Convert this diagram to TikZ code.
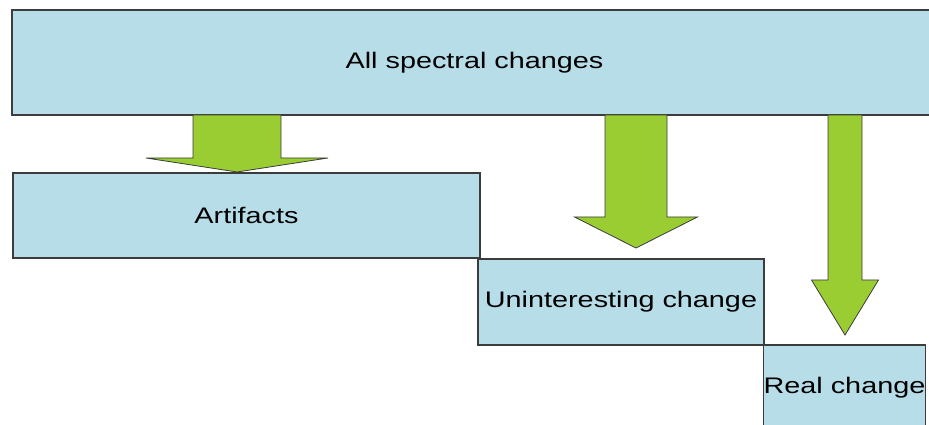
\documentclass[tikz,border=0pt]{standalone}
\usepackage{fontspec}
\setmainfont{Liberation Sans}[FakeStretch=1.28]
\usepackage{tikz}
\usetikzlibrary{positioning, calc}

\definecolor{boxblue}{HTML}{B7DEE8}
\definecolor{arrowgreen}{HTML}{9ACD32}
\definecolor{edgegray}{HTML}{3C3C3C}

% block arrow from the bottom of #1 down to the top of #2
% #3 axis x, #4 half shaft, #5 half head, #6 head length, #7 gap above target
\newcommand{\blockarrow}[7]{%
    \draw[bigarrow] let \p1=(#1.south), \p2=(#2.north) in
        (#3pt-#4pt,\y1) -- (#3pt+#4pt,\y1) -- (#3pt+#4pt,\y2+#7pt+#6pt)
        -- (#3pt+#5pt,\y2+#7pt+#6pt) -- (#3pt,\y2+#7pt)
        -- (#3pt-#5pt,\y2+#7pt+#6pt) -- (#3pt-#4pt,\y2+#7pt+#6pt) -- cycle;}

\begin{document}
\begin{tikzpicture}[
        x=1pt, y=1pt,
        stagebox/.style={draw=edgegray, fill=boxblue, line width=1.3pt, inner sep=0pt, outer sep=0pt, align=center, text=black, font=\fontsize{22.5}{26}\selectfont},
        bigarrow/.style={draw=edgegray, fill=arrowgreen, line width=0.8pt, line join=miter}
    ]
        \useasboundingbox (0,0) rectangle (929,425);
        \clip (0,0) rectangle (929,425);

        \node[stagebox, minimum width=925pt, minimum height=105pt] (all) at (474.5,362.5) {All spectral changes};
        \node[stagebox, minimum width=467pt, minimum height=85pt] (artif) at (246.5,209.5) {Artifacts};
        \node[stagebox, minimum width=286pt, minimum height=86pt] (unint) at (621,123) {Uninteresting change};
        \node[stagebox, minimum width=161pt, minimum height=86pt] (real) at (844.5,37) {Real change};

        % Arrows narrow as the share of changes gets smaller
        \blockarrow{all}{artif}{237}{44}{91}{14}{1}
        \blockarrow{all}{unint}{636}{31}{61.5}{31}{11}
        \blockarrow{all}{real}{845}{17}{33.5}{55}{10}
    \end{tikzpicture}
\end{document}
